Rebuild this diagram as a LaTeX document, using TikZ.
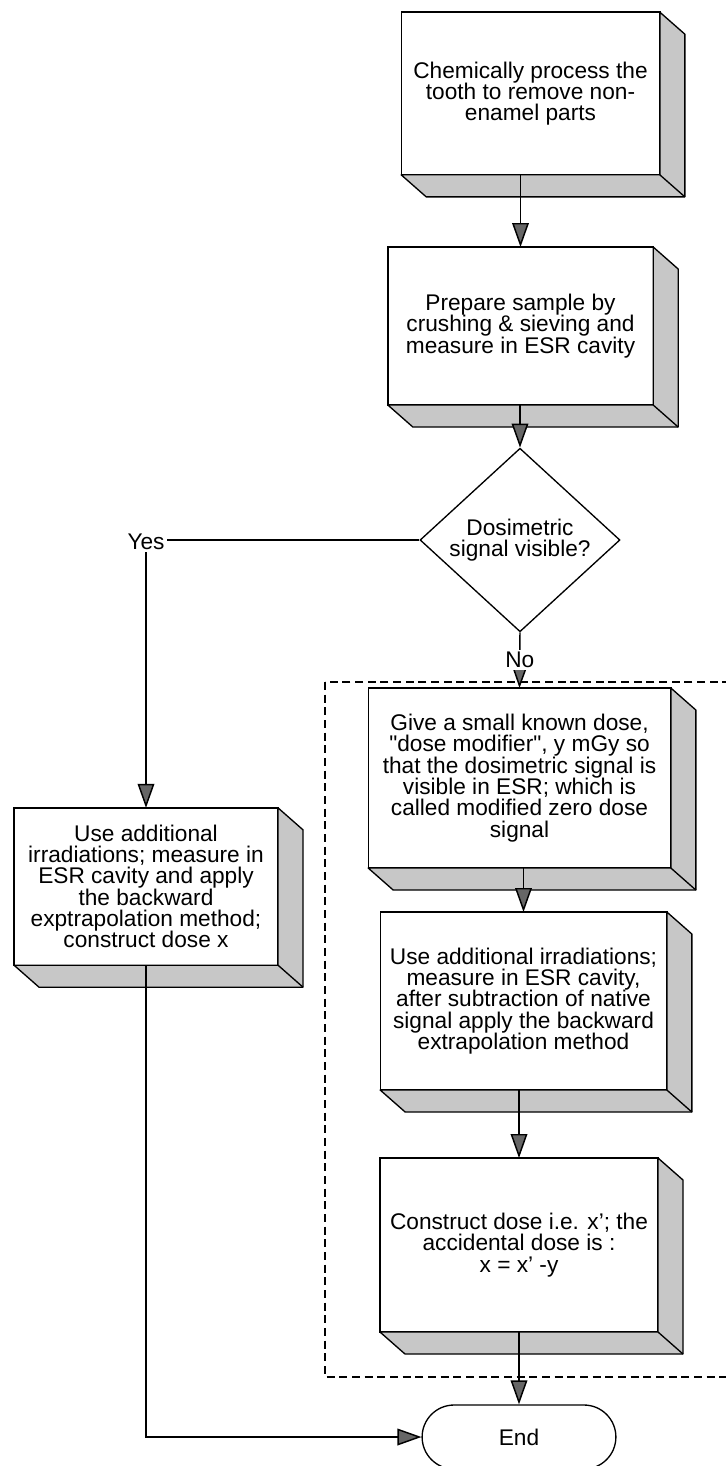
\documentclass[tikz,border=0pt]{standalone}
\usepackage{fontspec}
\setmainfont{Liberation Sans}[Ligatures=TeXOff]
\usetikzlibrary{positioning}
\usetikzlibrary{arrows.meta,shapes}
\usetikzlibrary{calc}
\newcommand{\flowfont}{\fontsize{17}{16}\selectfont\lineskiplimit=-20pt}
\tikzstyle{stepbox}=[rectangle,draw,fill=white,line width=1pt,outer sep=0pt,inner sep=2pt,align=center,font=\flowfont]
\tikzstyle{decision}=[diamond,draw,fill=white,line width=1pt,inner sep=0pt,minimum width=150pt,minimum height=117pt,align=center,font=\flowfont]
\tikzstyle{terminal}=[rounded rectangle,draw,fill=white,line width=1pt,minimum width=152pt,minimum height=48pt,font=\flowfont]
\tikzstyle{side}=[draw,line width=1pt,fill=black!22,line join=round]
\tikzstyle{edge} = [draw,line width=1.1pt,-{Triangle[length=18pt,width=12.5pt,fill=black!60]}]
\tikzstyle{undirectededge} = [draw,line width=1.1pt]
\tikzstyle{answer} = [font=\flowfont,inner sep=1.5pt]
\tikzstyle{group} = [draw,line width=1.1pt,dash pattern=on 6pt off 3.5pt]

\begin{document}
\begin{tikzpicture}[x=0.75pt,y=-0.75pt]
  \useasboundingbox (0,0) rectangle (725,1466);

  % frame round the steps of the "No" branch
  \draw[group] (325,682) rectangle (732,1377);

  \foreach \pos/\name/\w/\h/\txt in {
      {(530.5,93.5)/chem/194pt/122pt/{Chemically process the\\tooth to remove non-\\enamel parts}},
      {(520.5,326)/prep/199pt/118.5pt/{Prepare sample by\\crushing \& sieving and\\measure in ESR cavity}},
      {(146,886.5)/alt/198pt/118pt/{Use additional\\irradiations; measure in\\ESR cavity and apply\\the backward\\exptrapolation method;\\construct dose x}},
      {(519.5,778)/give/227pt/135pt/{Give a small known dose,\\"dose modifier", y mGy so\\that the dosimetric signal is\\visible in ESR; which is\\called modified zero dose\\signal}},
      {(523.5,1001)/irr/215pt/133.5pt/{Use additional irradiations;\\measure in ESR cavity,\\after subtraction of native\\signal apply the backward\\extrapolation method}},
      {(519,1245)/cons/208.5pt/130.5pt/{Construct dose i.e. x’; the\\accidental dose is :\\x = x’ -y}}}
    \node[stepbox, minimum width=\w, minimum height=\h] (\name) at \pos {\txt};

  \node[decision] (dia) at (520,540) {Dosimetric\\signal visible?};
  \node[answer] (yes) at (146,542) {Yes};
  \node[terminal] (end) at (519,1437) {End};

  % shaded right and bottom faces of the boxes
  \foreach \name in {chem,prep,alt,give,irr,cons}{
    \path[side] (\name.north east) -- ++(25,22) -- ($(\name.south east)+(25,22)$)
      -- ($(\name.south west)+(25,22)$) -- (\name.south west) -- (\name.south east) -- cycle;
    \draw[line width=1pt] (\name.south east) -- ++(25,22);
  }

  % connect the steps
  \foreach \source/\dest in {chem/prep, prep/dia, give/irr, irr/cons, cons/end}
    \path[edge] (\source.south -| \dest.north) -- (\dest.north);

  \path[undirectededge] (dia.west) -- (yes.east |- dia.west);
  \path[edge] (yes.south) -- (alt.north);
  \path[edge] (dia.south) -- node[answer,fill=white] {No} (give.north);
  \path[edge] (alt.south) |- (end.west);
\end{tikzpicture}
\end{document}
